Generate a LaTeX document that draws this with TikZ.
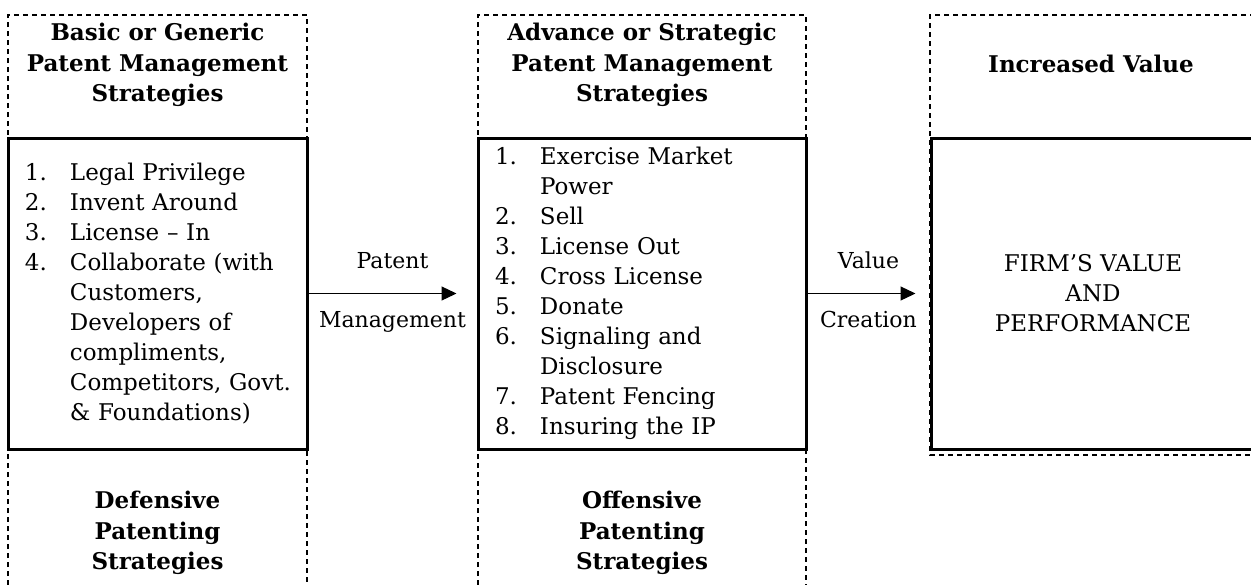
\documentclass[tikz,border=0pt]{standalone}
\usepackage{fontspec}
\setmainfont{DejaVu Serif}
\usetikzlibrary{arrows.meta,positioning}

\newcommand{\litem}[2]{\mbox{\makebox[22.5pt][l]{#1}#2}}

\tikzset{
	txt/.style={font=\fontsize{11}{15}\selectfont, inner sep=0pt},
	head/.style={font=\fontsize{11.5}{15.25}\selectfont\bfseries, inner sep=0pt, align=center},
	frame/.style={draw, dash pattern=on 2.5pt off 2pt, line width=0.8pt},
	listbox/.style={draw, line width=1.5pt, minimum height=155.5pt, inner ysep=0pt,
		inner xsep=8.5pt, align=left, font=\fontsize{11.5}{15}\selectfont},
	flow/.style={-{Triangle[length=7.5pt,width=7pt]}, line width=0.6pt}
}

\begin{document}
\begin{tikzpicture}[x=0.5pt,y=-0.5pt]
	
	\useasboundingbox (0,0) rectangle (1251,584);
	
	% dashed columns
	\draw[frame] (8,594) |- (307,15) -- (307,594);
	\draw[frame] (478,594) |- (806,15) -- (806,594);
	\draw[frame] (1255,15) -| (930,455) -- (1255,455);
	
	\node[head, anchor=north] (basichead) at (157.5,23) {Basic or Generic\\Patent Management\\Strategies};
	\node[head, anchor=north] (advhead) at (642,23) {Advance or Strategic\\Patent Management\\Strategies};
	\node[head, anchor=base] (valuehead) at (1091,72) {Increased Value};
	
	\node[listbox, text width=132.5pt] (basic) at (157.5,293.5) {%
		\litem{1.}{Legal Privilege}\\
		\litem{2.}{Invent Around}\\
		\litem{3.}{License -- In}\\
		\litem{4.}{Collaborate (with}\\
		\litem{}{Customers,}\\
		\litem{}{Developers of}\\
		\litem{}{compliments,}\\
		\litem{}{Competitors, Govt.}\\
		\litem{}{\& Foundations)}};
	\node[listbox, text width=147pt] (advance) at (642,293.5) {%
		\litem{1.}{Exercise Market}\\
		\litem{}{Power}\\
		\litem{2.}{Sell}\\
		\litem{3.}{License Out}\\
		\litem{4.}{Cross License}\\
		\litem{5.}{Donate}\\
		\litem{6.}{Signaling and}\\
		\litem{}{Disclosure}\\
		\litem{7.}{Patent Fencing}\\
		\litem{8.}{Insuring the IP}};
	\node[listbox, minimum width=162pt, align=center] (firm) at (1093,293.5) {FIRM'S VALUE\\AND\\PERFORMANCE};
	
	\draw[flow, shorten >=10pt] (basic.east) -- (advance.west)
		node[txt, midway, above=12pt] (patlbl) {Patent}
		node[txt, midway, below=8.5pt] (mgmtlbl) {Management};
	\draw[flow, shorten >=7pt] (advance.east) -- (firm.west)
		node[txt, midway, above=12pt] (vallbl) {Value}
		node[txt, midway, below=8.5pt] (crelbl) {Creation};
	
	\node[head, anchor=north] (defhead) at (157.5,491) {Defensive\\Patenting\\Strategies};
	\node[head, anchor=north] (offhead) at (642,491) {Offensive\\Patenting\\Strategies};
	
\end{tikzpicture}
\end{document}
